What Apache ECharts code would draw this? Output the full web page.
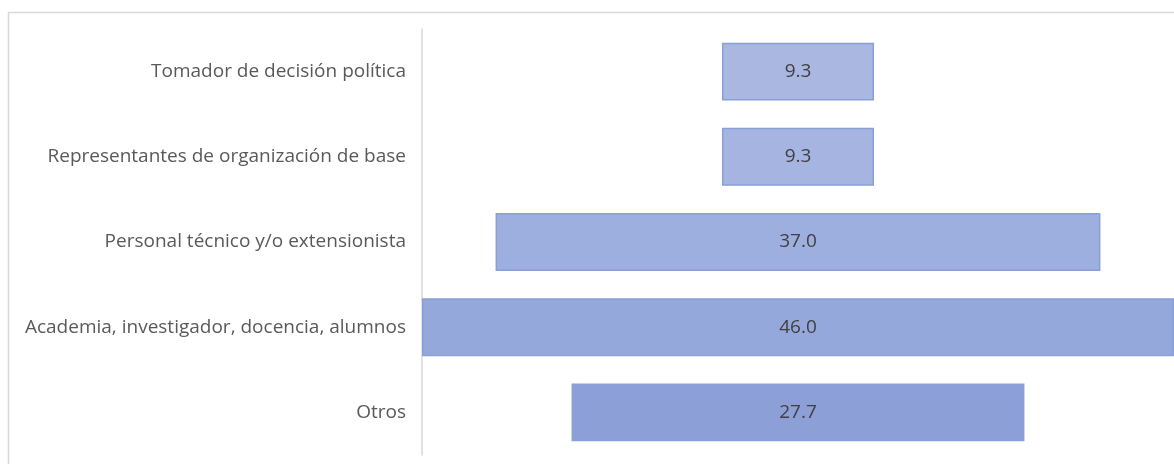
<!DOCTYPE html>
<html><head><meta charset="utf-8">
<script src="https://cdn.jsdelivr.net/npm/echarts@6/dist/echarts.min.js"></script>
<style>html,body{margin:0;padding:0;background:#fff}#c{width:1174px;height:464px}</style>
</head><body><div id="c"></div>
<script>
const categories = ["Tomador de decisión política","Representantes de organización de base","Personal técnico y/o extensionista","Academia, investigador, docencia, alumnos","Otros"];
const values = [9.3, 9.3, 37.0, 46.0, 27.7];
const barColors = ["#a9b7e1","#a5b4e0","#9dafde","#95a8db","#8c9fd7"];
const maxVal = 46;
const offsets = values.map(v => (maxVal - v) / 2);
const chart = echarts.init(document.getElementById('c'));
chart.setOption({
  animation:false,
  graphic:[{type:'rect',shape:{x:8.5,y:12.5,width:1300,height:600},style:{fill:'none',stroke:'#d9d9d9',lineWidth:1.5},z:-1}],
  grid:{left:422,right:0,top:29,bottom:9},
  xAxis:{type:'value',min:0,max:maxVal,show:false},
  yAxis:{type:'category',data:categories,inverse:true,
    axisLine:{lineStyle:{color:'#d9d9d9',width:1.5}},axisTick:{show:false},
    axisLabel:{color:'#595959',fontSize:19,fontFamily:'Open Sans',margin:16}},
  series:[
    {type:'bar',stack:'a',data:offsets,itemStyle:{color:'transparent'},barWidth:'68%',silent:true},
    {type:'bar',stack:'a',data:values.map((v,i)=>({value:v,itemStyle:{color:barColors[i]}})),barWidth:'68%',
     itemStyle:{borderColor:'#8a9fd8',borderWidth:1.5},
     label:{show:true,position:'inside',color:'#404040',fontSize:19,fontFamily:'Open Sans',formatter:p=>p.value.toFixed(1)}}
  ]
});
</script></body></html>
